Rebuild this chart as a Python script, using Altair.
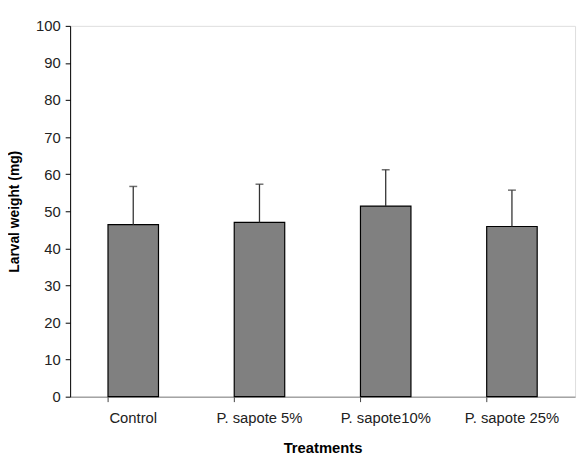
import altair as alt
import pandas as pd

treatments = ["Control", "P. sapote 5%", "P. sapote10%", "P. sapote 25%"]
means = [46.4, 47.0, 51.4, 45.9]
upper = [56.7, 57.3, 61.2, 55.7]
y_ticks = [0, 10, 20, 30, 40, 50, 60, 70, 80, 90, 100]

df = pd.DataFrame({"treatment": treatments, "mean": means, "upper": upper})

font = "Liberation Sans"

x_axis = alt.Axis(title="Treatments", labelAngle=0, bandPosition=0,
                  domainColor="#808080", tickColor="#404040", tickSize=5,
                  labelPadding=9, labelFontSize=15, labelColor="#222222",
                  titleFontSize=15, titleFontWeight="bold", titlePadding=16,
                  labelFont=font, titleFont=font, grid=False)
y_axis = alt.Axis(title="Larval weight (mg)", values=y_ticks,
                  labelOverlap=False,
                  domainColor="black", tickColor="black", tickSize=5,
                  labelPadding=5, labelFontSize=15, labelColor="#222222",
                  titleFontSize=14, titleFontWeight="bold", titlePadding=14,
                  labelFont=font, titleFont=font, grid=False)
x_scale = alt.Scale(paddingInner=0.6, paddingOuter=0.3)
y_scale = alt.Scale(domain=[0, 100], nice=False)

x = alt.X("treatment:N", sort=treatments, scale=x_scale, axis=x_axis)

bars = alt.Chart(df).mark_bar(color="#808080", stroke="black", strokeWidth=1.2).encode(
    x=x, y=alt.Y("mean:Q", scale=y_scale, axis=y_axis))
err = alt.Chart(df).mark_rule(color="#333333", strokeWidth=1.3).encode(
    x=x, y=alt.Y("mean:Q", scale=y_scale, axis=y_axis), y2="upper:Q")
cap = alt.Chart(df).mark_tick(color="#333333", thickness=1.5, size=8, orient="horizontal").encode(
    x=x, y=alt.Y("upper:Q", scale=y_scale, axis=y_axis))

chart = alt.layer(bars, err, cap).properties(
    width=512, height=376,
    autosize=alt.AutoSizeParams(type="none"),
    padding={"left": 63, "top": 15, "right": 4, "bottom": 56},
).configure_view(stroke=None).configure(background="white")

chart.save("out.html", embed_options={"renderer": "svg", "actions": False})
